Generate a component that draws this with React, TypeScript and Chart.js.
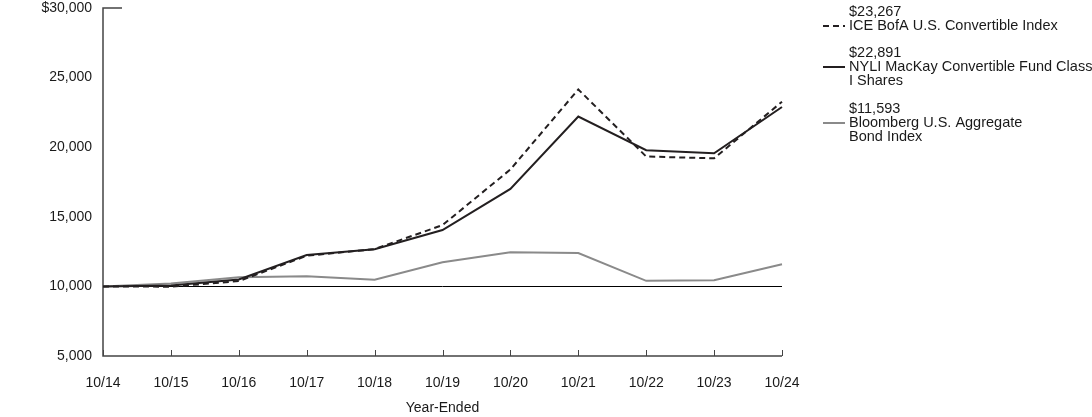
import React, { useEffect, useRef } from "react";
import { Chart, registerables } from "chart.js";

Chart.register(...registerables);

const years = ["10/14", "10/15", "10/16", "10/17", "10/18", "10/19", "10/20", "10/21", "10/22", "10/23", "10/24"];
const iceIndex = [10000, 9980, 10380, 12200, 12680, 14400, 18400, 24150, 19330, 19200, 23267];
const fundClassI = [10000, 10060, 10500, 12250, 12670, 14050, 17000, 22200, 19780, 19560, 22891];
const bondIndex = [10000, 10200, 10650, 10730, 10480, 11730, 12450, 12400, 10400, 10450, 11593];
const yTicks = [5000, 10000, 15000, 20000, 25000, 30000];

const FONT = '"Liberation Sans", Arial, sans-serif';
const FS = 14;
const TEXT = "#1a1a1a";
const BLACK = "#231f20";
const GRAY = "#8a8a8a";
const AXIS = "#444444";

const legendItems = [
  { lines: ["$" + iceIndex[iceIndex.length - 1].toLocaleString("en-US"), "ICE BofA U.S. Convertible Index"], color: BLACK, dash: [6, 4], top: 12 },
  { lines: ["$" + fundClassI[fundClassI.length - 1].toLocaleString("en-US"), "NYLI MacKay Convertible Fund Class", "I Shares"], color: BLACK, dash: [], top: 53 },
  { lines: ["$" + bondIndex[bondIndex.length - 1].toLocaleString("en-US"), "Bloomberg U.S. Aggregate", "Bond Index"], color: GRAY, dash: [], top: 109 },
];

const decorPlugin = {
  id: "decor",
  beforeDatasetsDraw(chart: any) {
    const { ctx, chartArea, scales } = chart;
    const y = scales.y;
    const x = scales.x;
    ctx.save();
    const y10 = Math.round(y.getPixelForValue(10000)) + 0.5;
    ctx.strokeStyle = "#000000";
    ctx.lineWidth = 1;
    ctx.beginPath();
    ctx.moveTo(chartArea.left, y10);
    ctx.lineTo(chartArea.right, y10);
    ctx.stroke();
    ctx.strokeStyle = AXIS;
    ctx.lineWidth = 1.5;
    ctx.beginPath();
    ctx.moveTo(chartArea.left + 19, chartArea.top);
    ctx.lineTo(chartArea.left, chartArea.top);
    ctx.lineTo(chartArea.left, chartArea.bottom);
    ctx.lineTo(chartArea.right, chartArea.bottom);
    ctx.stroke();
    ctx.lineWidth = 1;
    for (let i = 0; i < years.length; i++) {
      const px = Math.round(x.getPixelForValue(i)) + 0.5;
      ctx.beginPath();
      ctx.moveTo(px, chartArea.bottom);
      ctx.lineTo(px, chartArea.bottom - 6);
      ctx.stroke();
    }
    ctx.restore();
  },
  afterDraw(chart: any) {
    const { ctx } = chart;
    ctx.save();
    ctx.font = "14.5px " + FONT;
    ctx.fillStyle = TEXT;
    ctx.textBaseline = "middle";
    ctx.textAlign = "left";
    for (const item of legendItems) {
      item.lines.forEach((t, i) => {
        ctx.fillText(t, 849, item.top + i * 14);
      });
      ctx.strokeStyle = item.color;
      ctx.lineWidth = 2;
      ctx.setLineDash(item.dash);
      ctx.beginPath();
      ctx.moveTo(823, item.top + 14);
      ctx.lineTo(845, item.top + 14);
      ctx.stroke();
      ctx.setLineDash([]);
    }
    ctx.restore();
  },
};

export default function App() {
  const ref = useRef<HTMLCanvasElement | null>(null);
  useEffect(() => {
    if (!ref.current) return;
    const chart = new Chart(ref.current, {
      type: "line",
      data: {
        labels: years,
        datasets: [
          { label: "ICE BofA U.S. Convertible Index", data: iceIndex, borderColor: BLACK, borderWidth: 2, borderDash: [6, 4], pointRadius: 0, tension: 0, fill: false },
          { label: "NYLI MacKay Convertible Fund Class I Shares", data: fundClassI, borderColor: BLACK, borderWidth: 2, pointRadius: 0, tension: 0, fill: false },
          { label: "Bloomberg U.S. Aggregate Bond Index", data: bondIndex, borderColor: GRAY, borderWidth: 2, pointRadius: 0, tension: 0, fill: false },
        ],
      },
      options: {
        responsive: false,
        animation: false,
        devicePixelRatio: 1,
        layout: { padding: { left: 0, right: 310, top: 8, bottom: 0 } },
        plugins: { legend: { display: false }, tooltip: { enabled: false } },
        scales: {
          x: {
            type: "category",
            offset: false,
            grid: { display: false, drawTicks: false },
            border: { display: false },
            ticks: { color: TEXT, font: { family: FONT, size: FS }, padding: 19, maxRotation: 0, autoSkip: false },
            title: { display: true, text: "Year-Ended", color: TEXT, font: { family: FONT, size: FS }, padding: { top: 0, bottom: 0 } },
            afterFit: (s: any) => { s.height = 61; s.paddingLeft = 0; s.paddingRight = 0; },
          },
          y: {
            min: 5000,
            max: 30000,
            afterBuildTicks: (s: any) => { s.ticks = yTicks.map((v) => ({ value: v })); },
            grid: { display: false, drawTicks: false },
            border: { display: false },
            ticks: {
              color: TEXT,
              font: { family: FONT, size: FS },
              padding: 11,
              callback: (v: any) => (v === 30000 ? "$" : "") + Number(v).toLocaleString("en-US"),
            },
            afterFit: (s: any) => { s.width = 103; s.paddingTop = 0; s.paddingBottom = 0; },
          },
        },
      },
      plugins: [decorPlugin],
    });
    return () => chart.destroy();
  }, []);
  return (
    <div style={{ position: "absolute", left: 0, top: 0, width: 1092, height: 417, background: "#ffffff" }}>
      <canvas ref={ref} width={1092} height={417} style={{ display: "block" }} />
    </div>
  );
}
